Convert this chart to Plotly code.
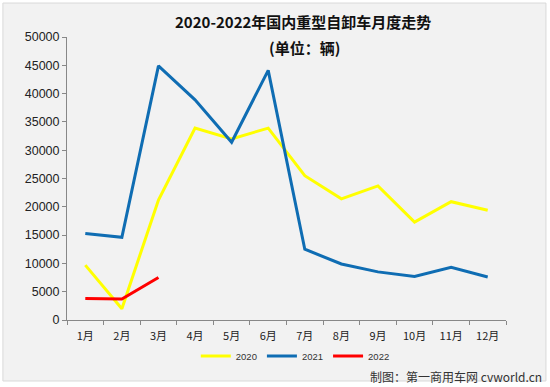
import plotly.graph_objects as go

months = ["1月", "2月", "3月", "4月", "5月", "6月", "7月", "8月", "9月", "10月", "11月", "12月"]
y2020 = [9700, 2000, 21200, 33900, 32000, 33900, 25500, 21400, 23700, 17300, 20900, 19400]
y2021 = [15300, 14600, 44900, 38900, 31400, 44100, 12500, 9900, 8500, 7700, 9300, 7600]
y2022 = [3800, 3700, 7500]

fig = go.Figure()
fig.add_trace(go.Scatter(x=months, y=y2020, mode="lines", name="2020",
                         line=dict(color="#FFFF00", width=3)))
fig.add_trace(go.Scatter(x=months, y=y2021, mode="lines", name="2021",
                         line=dict(color="#0F6DB3", width=3)))
fig.add_trace(go.Scatter(x=months[:3], y=y2022, mode="lines", name="2022",
                         line=dict(color="#FF0000", width=3)))

CJK = "Noto Sans CJK SC"
fig.update_layout(
    width=550, height=387,
    paper_bgcolor="#FFFFFF", plot_bgcolor="#F2F2F2",
    margin=dict(l=67, r=44, t=37, b=67, autoexpand=False),
    font=dict(family="Liberation Sans, " + CJK, size=11, color="#222"),
    showlegend=True,
    legend=dict(orientation="h", x=0.52, xanchor="center", y=-0.127, yanchor="middle",
                font=dict(size=9.5, color="#333"), bgcolor="rgba(0,0,0,0)",
                itemwidth=30, tracegroupgap=0),
    shapes=[dict(type="rect", xref="paper", yref="paper", x0=-0.146, x1=1.091, y0=-0.2155, y1=1.12,
                 fillcolor="#F2F2F2", line=dict(color="#D9D9D9", width=1), layer="below")],
)
fig.update_xaxes(showgrid=False, showline=True, linecolor="#888", linewidth=1,
                 range=[-0.5, 11.5], automargin=False,
                 ticks="outside", tickson="boundaries", ticklen=4, tickcolor="#888",
                 ticklabelstandoff=6,
                 tickfont=dict(size=11, color="#222", family=CJK))
fig.update_yaxes(range=[0, 50000], dtick=5000, tickformat="d", showgrid=False,
                 showline=True, linecolor="#888", linewidth=1, zeroline=False,
                 ticks="outside", ticklen=4, tickcolor="#888", automargin=False,
                 tickfont=dict(size=12.5, color="#222", family="Liberation Sans"))

# title (two lines)
fig.add_annotation(text="<b>2020-2022年国内重型自卸车月度走势</b>", xref="paper", yref="paper",
                   x=(303 - 67) / 439, y=(320 - 21) / 283, xanchor="center", yanchor="middle",
                   showarrow=False, font=dict(size=15, color="#111", family=CJK))
fig.add_annotation(text="<b>(单位：辆)</b>", xref="paper", yref="paper",
                   x=(304 - 67) / 439, y=(320 - 47) / 283, xanchor="center", yanchor="middle",
                   showarrow=False, font=dict(size=15, color="#111", family=CJK))

# footer
fig.add_annotation(text="制图：第一商用车网 cvworld.cn", xref="paper", yref="paper",
                   x=(544 - 67) / 439, y=(320 - 376) / 283, xanchor="right", yanchor="middle",
                   showarrow=False, font=dict(size=12, color="#333", family=CJK))

fig.write_html("out.html", config={"displayModeBar": False},
               post_script="document.body.style.margin='0';")
